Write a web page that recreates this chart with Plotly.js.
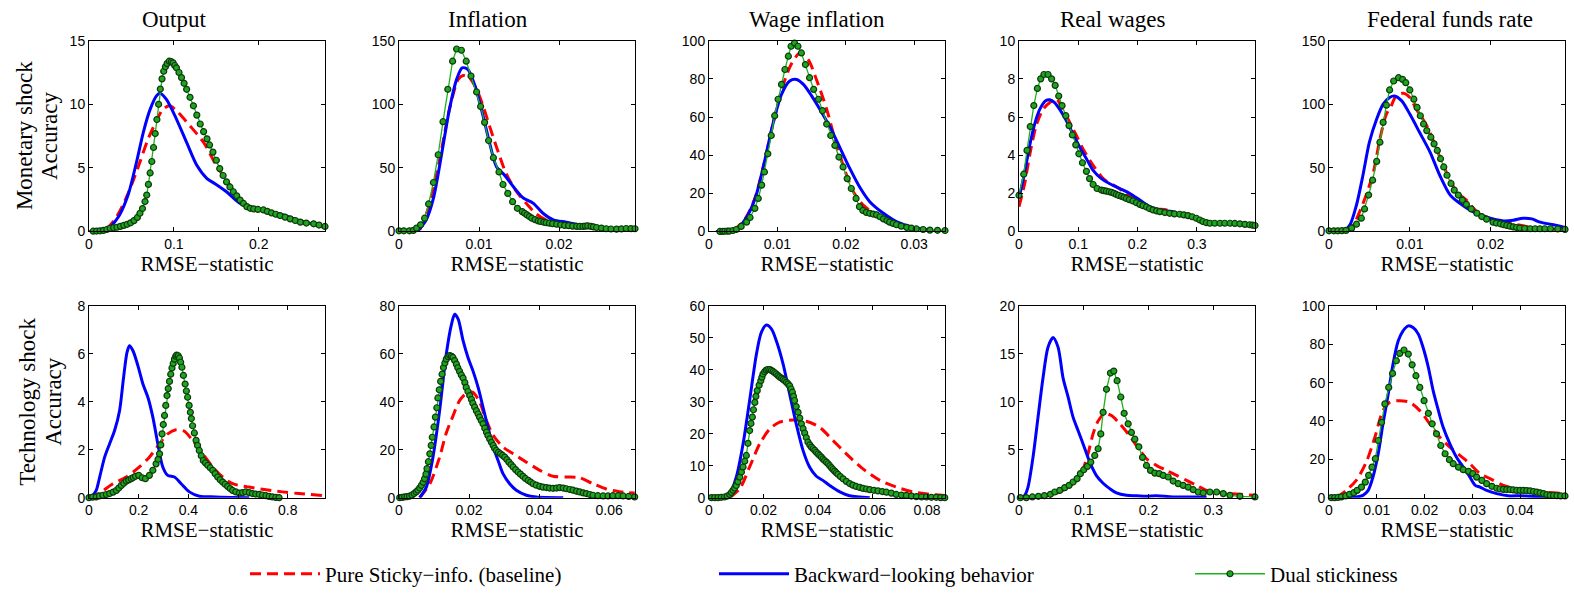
<!DOCTYPE html>
<html><head><meta charset="utf-8">
<script src="https://cdn.plot.ly/plotly-3.0.1.min.js"></script>
<style>html,body{margin:0;padding:0;background:#fff}#chart{width:1574px;height:595px}</style>
</head><body><div id="chart"></div>
<script>
// ---------- DATA: [x, y] pairs ----------
const colTitles = ['Output', 'Inflation', 'Wage inflation', 'Real wages', 'Federal funds rate'];
const rowTitleLines = [['Monetary shock', 'Accuracy'], ['Technology shock', 'Accuracy']];
const seriesNames = ['Pure Sticky\u2212info. (baseline)', 'Backward\u2212looking behavior', 'Dual stickiness'];
const xTitle = 'RMSE\u2212statistic';

// Monetary shock – Output
const outMonBase = [[0,0],[0.0205,0.26],[0.030,0.9],[0.040,2.08],[0.050,3.64],[0.060,5.46],[0.0697,7.28],[0.0795,8.7],[0.087,9.6],[0.095,9.88],[0.103,9.5],[0.119,8.3],[0.135,7.0],[0.150,5.2],[0.166,3.64],[0.178,2.47],[0.194,1.82],[0.229,1.17],[0.278,0.31]];
const outMonBack = [[0.0244,0.26],[0.036,1.3],[0.046,2.86],[0.056,5.46],[0.064,7.8],[0.072,9.6],[0.0795,10.66],[0.0835,10.87],[0.091,10.4],[0.103,8.84],[0.115,7.0],[0.127,5.2],[0.139,4.16],[0.148,3.77],[0.162,3.12],[0.178,2.2],[0.194,1.82],[0.209,1.6],[0.229,1.3],[0.249,0.83],[0.278,0.39]];
const outMonDual = [[0.005,0.02],[0.009,0.03],[0.013,0.05],[0.017,0.08],[0.021,0.15],[0.025,0.25],[0.029,0.29],[0.033,0.33],[0.037,0.4],[0.041,0.48],[0.045,0.56],[0.049,0.68],[0.053,0.85],[0.057,1.1],[0.060,1.43],[0.063,1.8],[0.066,2.35],[0.068,2.86],[0.070,3.7],[0.072,4.6],[0.074,5.5],[0.076,6.6],[0.078,7.7],[0.080,8.8],[0.082,10.0],[0.084,11.2],[0.086,12.0],[0.088,12.6],[0.090,12.95],[0.092,13.2],[0.0945,13.39],[0.097,13.35],[0.099,13.26],[0.101,13.05],[0.103,12.87],[0.106,12.5],[0.109,12.1],[0.112,11.65],[0.115,11.18],[0.119,10.55],[0.123,9.88],[0.127,9.15],[0.131,8.45],[0.135,7.85],[0.139,7.28],[0.142,6.8],[0.146,6.24],[0.150,5.6],[0.154,4.94],[0.158,4.4],[0.162,3.9],[0.166,3.5],[0.170,3.12],[0.174,2.8],[0.178,2.47],[0.182,2.2],[0.186,1.95],[0.190,1.82],[0.194,1.77],[0.199,1.73],[0.2055,1.69],[0.21,1.58],[0.215,1.46],[0.22,1.35],[0.225,1.25],[0.231,1.12],[0.237,0.99],[0.243,0.86],[0.249,0.73],[0.256,0.66],[0.2646,0.6],[0.271,0.5],[0.278,0.39]];

// Monetary shock – Inflation
const infMonBase = [[0.0026,1.3],[0.0038,20.8],[0.0051,57.2],[0.0063,96],[0.0074,119.6],[0.008,122.7],[0.0088,120.9],[0.0097,111.8],[0.0105,98.8],[0.0113,83.2],[0.0124,62.4],[0.0134,45.5],[0.0147,31.2],[0.0159,22.1],[0.0172,13.5],[0.0184,9.1],[0.0201,6.5],[0.0226,4.7],[0.0247,3.1],[0.0295,1.3]];
const infMonBack = [[0.0024,0.5],[0.0034,9.1],[0.0043,26],[0.0053,59.8],[0.0063,96],[0.0072,119.6],[0.0079,128.7],[0.0086,127.4],[0.0095,114.4],[0.0105,91],[0.0114,67.6],[0.0122,50.7],[0.0132,44.2],[0.0143,35.1],[0.0155,26.5],[0.0168,22.1],[0.018,14.3],[0.0193,9.1],[0.0209,7.3],[0.0226,5.2],[0.0247,3.9],[0.0263,2.6],[0.0295,1.3]];
const infMonDual = [[0,0.5],[0.0006,0.5],[0.0013,0.5],[0.0018,0.8],[0.0022,2.6],[0.0027,5.2],[0.0032,10.4],[0.0037,21.6],[0.0043,38.5],[0.0049,60.3],[0.0055,86.3],[0.0061,111.8],[0.0067,133.9],[0.0072,143.5],[0.0078,142.5],[0.0084,133.9],[0.009,122.2],[0.0097,109.7],[0.0102,98.3],[0.0107,85.8],[0.0112,71.5],[0.0118,58],[0.0125,46.8],[0.013,36.9],[0.0136,29.9],[0.0142,23.4],[0.0148,18.2],[0.0154,15.6],[0.0157,14.3],[0.016,13],[0.0163,11.7],[0.0166,10.4],[0.017,9.3],[0.0174,8.3],[0.0177,7.8],[0.0181,7.3],[0.0184,6.9],[0.0188,6.5],[0.0192,6.1],[0.0197,5.7],[0.0202,5.2],[0.0207,4.7],[0.0212,4.5],[0.0217,4.2],[0.0222,4.0],[0.0226,3.9],[0.023,3.9],[0.0233,4.2],[0.0236,4.4],[0.024,4.0],[0.0243,3.6],[0.0247,3.1],[0.0253,2.6],[0.0259,2.1],[0.0265,1.9],[0.0272,1.8],[0.0278,2.0],[0.0284,2.3],[0.029,2.2],[0.0295,2.1]];

// Monetary shock – Wage inflation
const wageMonBase = [[0.0035,0.3],[0.0052,6.1],[0.0067,17.3],[0.0081,36.4],[0.0094,57.2],[0.0108,76.3],[0.012,87.5],[0.0133,93.6],[0.0145,90.1],[0.0157,79.7],[0.0172,64.1],[0.0184,48.5],[0.0196,34.7],[0.0211,20.8],[0.0225,13.9],[0.0245,8.7],[0.0269,4.3],[0.0299,1.7],[0.0328,0.5]];
const wageMonBack = [[0.001,0],[0.004,0.9],[0.0057,8.7],[0.0069,19.1],[0.0081,36.4],[0.0094,57.2],[0.0106,71.9],[0.0118,78.9],[0.0128,79.7],[0.0138,77.1],[0.015,71.1],[0.0162,64.1],[0.0177,54.6],[0.0191,44.2],[0.0206,32.9],[0.022,23.4],[0.0235,15.6],[0.0255,9.5],[0.0274,5.2],[0.0299,2.1],[0.0323,0.9]];
const wageMonDual = [[0.0016,0],[0.002,0.05],[0.0023,0.1],[0.0027,0.15],[0.003,0.2],[0.0035,0.5],[0.004,1],[0.0047,2.6],[0.0055,4.9],[0.006,7.3],[0.0067,12.1],[0.0072,17.3],[0.0077,24.3],[0.0081,31.2],[0.0086,40.7],[0.0091,50.3],[0.0096,60.7],[0.0101,69.3],[0.0106,77.1],[0.0111,84.9],[0.0116,91.9],[0.012,97.1],[0.0125,98.8],[0.013,97.1],[0.0135,93.6],[0.0141,87.5],[0.0147,80.6],[0.0153,74.5],[0.016,69.3],[0.0166,63.3],[0.0172,56.3],[0.0178,50.3],[0.0184,45.1],[0.019,39],[0.0196,33.8],[0.0202,27.7],[0.0208,22.5],[0.0215,17.3],[0.022,13],[0.0225,11],[0.023,10],[0.0235,9.5],[0.024,9.1],[0.0245,8.7],[0.025,7.7],[0.0255,6.6],[0.026,5.7],[0.0264,4.9],[0.0269,4.2],[0.0274,3.5],[0.0281,2.8],[0.0289,2.1],[0.0296,1.7],[0.0303,1.4],[0.0313,1.0],[0.0323,0.7],[0.0334,0.6],[0.0345,0.5]];

// Monetary shock – Real wages
const realMonBase = [[0,1.3],[0.0096,2.51],[0.018,4.0],[0.029,5.55],[0.0405,6.4],[0.052,6.76],[0.063,6.93],[0.0743,6.4],[0.0855,5.72],[0.0968,5.03],[0.108,4.33],[0.125,3.47],[0.142,2.77],[0.159,2.43],[0.1756,2.11],[0.192,1.73],[0.209,1.42],[0.226,1.21],[0.249,1.13],[0.263,1.0]];
const realMonBack = [[0,1.73],[0.0096,3.1],[0.018,4.5],[0.0264,5.63],[0.035,6.4],[0.045,6.85],[0.052,6.9],[0.06,6.76],[0.0687,6.4],[0.08,5.8],[0.091,5.11],[0.1024,4.42],[0.1137,3.81],[0.125,3.2],[0.139,2.77],[0.153,2.5],[0.17,2.25],[0.187,1.99],[0.2037,1.65],[0.2206,1.3],[0.2375,1.13],[0.26,1.04]];
const realMonDual = [[0,1.9],[0.008,3.0],[0.0135,4.25],[0.019,5.5],[0.025,6.6],[0.031,7.5],[0.0366,8.0],[0.042,8.23],[0.049,8.23],[0.055,8.0],[0.061,7.66],[0.067,7.1],[0.0726,6.6],[0.079,6.07],[0.0844,5.55],[0.09,5.06],[0.0957,4.54],[0.101,4.07],[0.107,3.6],[0.1137,3.15],[0.119,2.77],[0.125,2.46],[0.1317,2.25],[0.139,2.17],[0.143,2.14],[0.1474,2.11],[0.152,2.08],[0.156,2.05],[0.16,2.0],[0.164,1.94],[0.168,1.89],[0.173,1.84],[0.177,1.79],[0.181,1.73],[0.186,1.67],[0.192,1.6],[0.198,1.51],[0.2037,1.42],[0.209,1.35],[0.215,1.28],[0.22,1.2],[0.226,1.13],[0.232,1.08],[0.2375,1.04],[0.246,0.99],[0.254,0.95],[0.262,0.92],[0.271,0.9],[0.278,0.87],[0.285,0.83],[0.292,0.77],[0.299,0.69],[0.305,0.6],[0.31,0.52],[0.316,0.46],[0.322,0.43],[0.33,0.43],[0.339,0.43],[0.347,0.43],[0.356,0.43],[0.364,0.42],[0.3725,0.4],[0.381,0.37],[0.389,0.35],[0.394,0.33],[0.398,0.31]];

// Monetary shock – Federal funds rate
const ffrMonBase = [[0.0019,0.5],[0.003,5.2],[0.0038,15.6],[0.0046,28.6],[0.0055,46.8],[0.0063,72.8],[0.0071,92.3],[0.0077,98.8],[0.0083,106.6],[0.0092,108.7],[0.01,105.3],[0.0108,96.2],[0.0121,83.2],[0.0133,65],[0.0145,46.8],[0.0158,31.2],[0.017,24.7],[0.0183,15.6],[0.0199,10.4],[0.0224,6.5],[0.0253,3.1],[0.0292,1.3]];
const ffrMonBack = [[0,0],[0.0019,0.8],[0.0026,5.2],[0.0034,20.8],[0.0042,44.2],[0.005,70.2],[0.0059,88.4],[0.0067,100.1],[0.0075,105.3],[0.0081,106.6],[0.009,102.7],[0.01,92.3],[0.0112,78],[0.0125,62.4],[0.0137,44.2],[0.015,28.6],[0.0162,22.1],[0.0174,16.9],[0.0187,13],[0.0199,10.4],[0.0216,8.3],[0.0228,8.8],[0.024,10.4],[0.0251,9.9],[0.0261,7.3],[0.0278,5.2],[0.0292,3.1]];
const ffrMonDual = [[0,0.5],[0.0006,0.5],[0.0011,0.5],[0.0016,0.6],[0.0021,0.8],[0.0028,2.6],[0.0034,5.7],[0.004,10.4],[0.0044,17.7],[0.0049,28.6],[0.0054,40.3],[0.0059,55.1],[0.0063,70.2],[0.0067,85.8],[0.0071,99.3],[0.0075,111.3],[0.008,118.3],[0.0086,120.9],[0.0091,119.6],[0.0095,117],[0.01,111.3],[0.0105,104],[0.0109,97.5],[0.0113,91],[0.0117,84.5],[0.0121,79.3],[0.0126,74.1],[0.013,68.9],[0.0134,63.7],[0.0138,57.2],[0.0142,50.7],[0.0146,44.2],[0.0151,37.7],[0.0155,32.5],[0.016,28.6],[0.0165,24.7],[0.017,21.3],[0.0176,17.7],[0.0183,14.3],[0.0189,11.7],[0.0195,9.6],[0.0203,7.3],[0.0207,6.6],[0.0212,6.0],[0.0216,5.3],[0.022,4.7],[0.0224,4.1],[0.0228,3.6],[0.0232,3.1],[0.0236,2.6],[0.0242,2.3],[0.0249,2.1],[0.0255,2.1],[0.0261,2.1],[0.0267,2.1],[0.0274,2.1],[0.0283,1.9],[0.0292,1.6]];

// Technology shock – Output
const outTecBase = [[0,0],[0.043,0.19],[0.096,0.58],[0.15,0.86],[0.203,1.28],[0.243,1.69],[0.284,2.25],[0.317,2.66],[0.35,2.83],[0.384,2.77],[0.417,2.39],[0.458,1.83],[0.498,1.28],[0.538,0.86],[0.578,0.58],[0.645,0.44],[0.712,0.33],[0.779,0.24],[0.845,0.17],[0.946,0.08]];
const outTecBack = [[0.009,0],[0.029,0.3],[0.043,0.86],[0.063,1.69],[0.083,2.25],[0.103,2.8],[0.123,3.63],[0.139,5.0],[0.153,6.06],[0.163,6.34],[0.177,6.13],[0.197,5.5],[0.217,4.74],[0.237,4.19],[0.257,3.36],[0.277,2.25],[0.297,1.28],[0.317,0.93],[0.344,0.86],[0.371,0.58],[0.404,0.24],[0.444,0.06],[0.511,0.03],[0.645,0]];
const outTecDual = [[0,0],[0.015,0.02],[0.029,0.03],[0.042,0.07],[0.056,0.1],[0.07,0.13],[0.083,0.17],[0.097,0.23],[0.11,0.3],[0.12,0.4],[0.13,0.51],[0.14,0.6],[0.15,0.69],[0.16,0.74],[0.17,0.79],[0.178,0.84],[0.187,0.89],[0.2,0.93],[0.214,0.83],[0.227,0.79],[0.243,0.93],[0.257,1.14],[0.27,1.41],[0.278,1.6],[0.284,1.83],[0.289,2.2],[0.294,2.66],[0.299,3.05],[0.304,3.43],[0.309,3.85],[0.314,4.26],[0.319,4.55],[0.324,4.85],[0.329,5.15],[0.334,5.41],[0.339,5.6],[0.344,5.78],[0.349,5.9],[0.353,5.95],[0.359,5.92],[0.364,5.83],[0.369,5.65],[0.374,5.44],[0.38,5.1],[0.387,4.74],[0.392,4.45],[0.397,4.19],[0.403,3.85],[0.408,3.56],[0.412,3.3],[0.417,3.0],[0.424,2.7],[0.431,2.39],[0.437,2.18],[0.444,1.97],[0.452,1.75],[0.46,1.55],[0.469,1.45],[0.478,1.35],[0.488,1.25],[0.498,1.14],[0.508,1.0],[0.518,0.86],[0.528,0.75],[0.538,0.65],[0.548,0.56],[0.558,0.47],[0.568,0.38],[0.578,0.3],[0.591,0.24],[0.605,0.19],[0.618,0.21],[0.631,0.24],[0.645,0.21],[0.658,0.17],[0.671,0.15],[0.685,0.14],[0.698,0.11],[0.712,0.08],[0.725,0.05],[0.738,0.03],[0.752,0.01],[0.765,0]];

// Technology shock – Inflation
const infTecBase = [[0.0059,0],[0.0088,5.8],[0.0116,16.9],[0.0135,27],[0.0154,34],[0.0173,40.5],[0.0192,43.5],[0.021,44],[0.023,40],[0.025,32],[0.0269,26],[0.0297,21.1],[0.0326,18.3],[0.0364,14.8],[0.0402,11.4],[0.044,8.9],[0.0478,8.6],[0.0516,8.3],[0.0554,5.8],[0.0592,3.6],[0.063,2.5],[0.0673,1.9]];
const infTecBack = [[0.0059,0],[0.0078,4.4],[0.0097,16.9],[0.0116,36.3],[0.0135,59.9],[0.015,72.4],[0.0159,76.5],[0.0169,74.5],[0.0183,65.5],[0.0197,58.5],[0.0211,53],[0.0226,46],[0.024,37.7],[0.0254,29.4],[0.0269,21.1],[0.0283,15.5],[0.0297,10],[0.0316,5.8],[0.0335,3.1],[0.0364,1],[0.0392,0.3],[0.0469,0]];
const infTecDual = [[0.0002,0],[0.0009,0.1],[0.0016,0.3],[0.0023,0.4],[0.003,0.6],[0.0037,1.1],[0.0043,1.7],[0.0049,2.4],[0.0054,3.1],[0.0059,4.0],[0.0064,5.1],[0.0069,6.4],[0.0073,7.9],[0.0077,9.8],[0.008,12.1],[0.0084,15.0],[0.0088,18.3],[0.0092,21.8],[0.0095,25.2],[0.01,29.5],[0.0104,33.6],[0.0108,37.5],[0.0111,41.6],[0.0115,45.0],[0.0119,48.5],[0.0123,51.5],[0.0127,54.3],[0.0131,56.2],[0.0135,57.8],[0.014,58.8],[0.0145,59.3],[0.015,59.0],[0.0154,58.5],[0.0159,57.2],[0.0164,55.7],[0.0168,54.2],[0.0173,52.7],[0.0178,51.2],[0.0183,49.9],[0.0188,48.0],[0.0192,46],[0.0197,44.3],[0.0202,42.6],[0.0207,41.0],[0.0211,39.4],[0.0216,37.8],[0.0221,36.3],[0.0226,34.9],[0.023,33.6],[0.0235,32.2],[0.024,30.8],[0.0245,29.0],[0.025,27.3],[0.0254,25.9],[0.0259,24.5],[0.0264,23.1],[0.0269,21.8],[0.0273,20.6],[0.0278,19.7],[0.0284,18.9],[0.029,18.3],[0.0296,17.6],[0.0302,16.9],[0.0308,15.9],[0.0314,14.8],[0.032,13.8],[0.0326,12.8],[0.0333,11.7],[0.034,10.7],[0.0347,9.8],[0.0354,8.9],[0.0361,8.0],[0.0369,7.2],[0.0376,6.5],[0.0383,5.8],[0.0392,5.2],[0.0402,4.7],[0.0411,4.4],[0.0421,4.2],[0.043,4.0],[0.044,3.9],[0.045,4.0],[0.0459,4.2],[0.0469,4.0],[0.0478,3.7],[0.0488,3.4],[0.0497,3.1],[0.0507,2.7],[0.0516,2.4],[0.0526,2.0],[0.0535,1.7],[0.0545,1.3],[0.0554,1.0],[0.0568,0.8],[0.0583,0.7],[0.0597,0.7],[0.0611,0.8],[0.0626,0.8],[0.064,0.7],[0.0656,0.5],[0.0673,0.3]];

// Technology shock – Wage inflation
const wageTecBase = [[0.0076,0],[0.0113,2.8],[0.0149,9.6],[0.0186,16.8],[0.0223,21.5],[0.0259,23.6],[0.0308,24.3],[0.0357,23.9],[0.0406,22],[0.0455,17.9],[0.0504,13.7],[0.0565,9],[0.0627,5.4],[0.0687,3.3],[0.0749,1.8],[0.081,1],[0.0865,0.7]];
const wageTecBack = [[0.0051,0],[0.0076,1.2],[0.01,6.4],[0.0125,16.8],[0.0149,30.4],[0.0174,44.9],[0.0192,51.7],[0.021,54],[0.0229,52.8],[0.0247,49.1],[0.0272,41.8],[0.0296,32.4],[0.032,23.1],[0.0345,14.8],[0.0369,9.6],[0.0394,6.7],[0.0418,5.4],[0.0443,3.8],[0.048,1.8],[0.0516,0.6],[0.059,0]];
const wageTecDual = [[0.0009,0],[0.0021,0],[0.0033,0],[0.0045,0.1],[0.0057,0.2],[0.0067,0.5],[0.0076,1.0],[0.0082,1.6],[0.0088,2.3],[0.0094,3.0],[0.01,3.8],[0.0106,5.0],[0.0113,6.4],[0.0119,8.0],[0.0125,9.6],[0.0131,11.4],[0.0137,13.2],[0.0143,17.0],[0.0149,21],[0.0154,23.2],[0.0159,25.2],[0.0163,27.5],[0.0168,29.8],[0.0172,31.7],[0.0177,33.5],[0.0184,35.2],[0.019,36.6],[0.0194,37.7],[0.0198,38.7],[0.0204,39.4],[0.021,39.9],[0.0216,40.1],[0.0223,40.1],[0.0229,39.8],[0.0235,39.5],[0.0241,39.1],[0.0247,38.7],[0.0253,38.2],[0.0259,37.8],[0.0266,37.4],[0.0272,37.0],[0.0278,36.6],[0.0284,36.1],[0.029,35.6],[0.0296,35.0],[0.0301,34.0],[0.0306,33],[0.031,31.7],[0.0314,30.4],[0.032,28.5],[0.0327,26.7],[0.0333,24.9],[0.0339,23.1],[0.0345,21.6],[0.0351,20.2],[0.0357,18.8],[0.0363,17.4],[0.037,16.5],[0.0376,15.8],[0.0382,15.3],[0.0388,14.8],[0.0394,14.2],[0.04,13.7],[0.0406,13.2],[0.0412,12.7],[0.0418,12.1],[0.0424,11.6],[0.0431,11.1],[0.0437,10.6],[0.0443,10.0],[0.0449,9.4],[0.0455,8.8],[0.0461,8.3],[0.0467,7.8],[0.0473,7.3],[0.0482,6.6],[0.0492,5.9],[0.0504,5.1],[0.0516,4.4],[0.0528,3.9],[0.054,3.5],[0.0553,3.2],[0.0565,2.9],[0.0578,2.7],[0.059,2.5],[0.0605,2.3],[0.062,2.1],[0.0636,1.9],[0.0651,1.7],[0.0669,1.4],[0.0687,1.0],[0.0706,0.8],[0.0724,0.7],[0.0743,0.5],[0.0761,0.3],[0.078,0.2],[0.0798,0.2],[0.0816,0.1],[0.0834,0.1],[0.085,0],[0.0865,0]];

// Technology shock – Real wages
const realTecBase = [[0.032,0],[0.0474,0.24],[0.0629,0.59],[0.0784,1.18],[0.0887,1.8],[0.099,3.0],[0.1067,4.6],[0.1144,6.65],[0.1222,8.0],[0.1325,8.8],[0.1428,8.56],[0.1557,7.7],[0.1686,6.65],[0.1814,5.44],[0.1969,4.06],[0.2124,3.36],[0.2278,2.84],[0.2433,2.32],[0.2588,1.8],[0.2742,1.28],[0.2897,0.76],[0.3052,0.59],[0.3258,0.42],[0.3644,0.24]];
const realTecBack = [[0.0036,0],[0.0088,0.24],[0.0139,1.1],[0.0216,4.2],[0.0294,8.4],[0.0371,12.5],[0.0448,15.7],[0.0526,16.7],[0.0603,15.7],[0.068,12.5],[0.0758,10.5],[0.0835,8.4],[0.0912,7.0],[0.099,5.6],[0.1093,3.7],[0.1196,2.3],[0.1299,1.5],[0.1402,0.94],[0.1505,0.49],[0.166,0.24],[0.1814,0.2],[0.1969,0.14],[0.2124,0.2],[0.2381,0.07],[0.2897,0.07]];
const realTecDual = [[0.002,0],[0.0113,0],[0.0206,0.07],[0.0299,0.14],[0.0392,0.21],[0.0485,0.35],[0.0552,0.59],[0.0629,0.76],[0.0706,1.04],[0.0773,1.28],[0.0835,1.63],[0.0897,1.98],[0.0948,2.5],[0.1,2.91],[0.1057,3.26],[0.1108,3.7],[0.117,4.4],[0.1222,5.1],[0.1263,6.65],[0.1299,8.9],[0.1351,11.3],[0.1412,13.0],[0.1464,13.2],[0.1515,12.2],[0.1572,10.5],[0.1624,8.8],[0.1686,7.7],[0.1737,6.8],[0.1789,6.1],[0.1851,5.3],[0.1907,4.2],[0.1969,3.36],[0.2031,2.84],[0.2098,2.56],[0.2165,2.5],[0.2227,2.32],[0.2304,2.15],[0.2381,1.73],[0.2459,1.46],[0.2536,1.28],[0.2613,1.1],[0.2691,0.83],[0.2768,0.59],[0.2845,0.49],[0.2948,0.59],[0.3052,0.59],[0.3155,0.42],[0.3258,0.24],[0.3412,0.14],[0.3644,0.07]];

// Technology shock – Federal funds rate
const ffrTecBase = [[0.0015,0],[0.0036,3.8],[0.0057,9.0],[0.0078,18.5],[0.0096,31.5],[0.0113,45.4],[0.0127,49.7],[0.0148,50.6],[0.0169,49.7],[0.019,45.4],[0.0211,38.5],[0.0232,31.5],[0.0253,26.3],[0.0274,22],[0.0295,17.7],[0.0316,12.5],[0.0337,9.9],[0.0365,6.4],[0.0393,4.7],[0.0421,4.2],[0.0449,2.9],[0.0494,2.1]];
const ffrTecBack = [[0.0036,0],[0.0057,0.35],[0.0071,1.2],[0.0082,3.8],[0.0092,10.7],[0.0103,22.9],[0.0113,38.5],[0.0124,54.1],[0.0134,69.7],[0.0145,81.8],[0.0155,87],[0.0166,89.6],[0.0176,88.7],[0.0187,85.3],[0.0197,78.3],[0.0208,67.9],[0.0218,55.8],[0.0229,45.4],[0.0239,36.7],[0.0253,28.1],[0.0267,21.1],[0.0281,15.9],[0.0295,10.7],[0.0306,6.4],[0.0316,5.5],[0.033,3.8],[0.0351,2.1],[0.0379,0.87],[0.04,1.0],[0.0421,0.7],[0.0449,0.35],[0.0494,0]];
const ffrTecDual = [[0.0005,0],[0.0012,0],[0.0019,0.1],[0.0026,0.35],[0.0035,0.87],[0.0043,1.7],[0.0052,2.6],[0.0059,3.8],[0.0068,5.5],[0.0076,8.1],[0.0083,11.6],[0.009,15.9],[0.0097,20.3],[0.0103,29.8],[0.011,39.3],[0.0117,48.9],[0.0125,57.5],[0.0133,64.8],[0.0141,71.4],[0.0148,75.2],[0.0157,77],[0.0166,74.9],[0.0174,69.3],[0.0182,63.6],[0.019,57.5],[0.0199,50.6],[0.0208,44],[0.0216,38.5],[0.0225,33.3],[0.0234,27.2],[0.0243,22.9],[0.0252,19.8],[0.026,17.7],[0.0271,15.9],[0.0281,14.6],[0.0292,13.7],[0.0301,12.5],[0.0309,10.7],[0.032,9.0],[0.033,7.3],[0.0341,5.9],[0.0351,4.9],[0.0358,4.5],[0.0365,4.3],[0.0372,4.2],[0.0379,4.2],[0.0386,4.0],[0.0393,3.8],[0.04,3.8],[0.0407,3.8],[0.0414,3.7],[0.0421,3.5],[0.0428,3.2],[0.0435,2.9],[0.0442,2.5],[0.0449,2.1],[0.0456,1.6],[0.0463,1.2],[0.047,1.1],[0.0477,1.0],[0.0485,0.9],[0.0494,0.87]];

// Axis ranges and tick steps per panel
const xMax  = [0.278, 0.0295, 0.0345, 0.398, 0.0292, 0.95, 0.0674, 0.0866, 0.3645, 0.0494];
const xStep = [0.1, 0.01, 0.01, 0.1, 0.01, 0.2, 0.02, 0.02, 0.1, 0.01];
const yMax  = [15, 150, 100, 10, 150, 8, 80, 60, 20, 100];
const yStep = [5, 50, 20, 2, 50, 2, 20, 10, 5, 20];
const panelData = [
  [outMonBase, outMonBack, outMonDual], [infMonBase, infMonBack, infMonDual],
  [wageMonBase, wageMonBack, wageMonDual], [realMonBase, realMonBack, realMonDual],
  [ffrMonBase, ffrMonBack, ffrMonDual],
  [outTecBase, outTecBack, outTecDual], [infTecBase, infTecBack, infTecDual],
  [wageTecBase, wageTecBack, wageTecDual], [realTecBase, realTecBack, realTecDual],
  [ffrTecBase, ffrTecBack, ffrTecDual]
];

// ---------- LAYOUT ----------
const W = 1574, H = 595;
const colLeft = [89, 399, 709, 1019, 1329], plotW = 236;
const titleCenter = [174, 488, 817, 1112, 1450];
const rowBox = [[41, 233], [308, 501]];
const rowLabelX = [[24, 49], [28, 54]];
const serif = 'Liberation Serif, Times New Roman, serif';
const sans = 'Liberation Sans, Arial, Helvetica, sans-serif';

const traces = [];
const layout = {
  width: W, height: H, margin: {l: 0, r: 0, t: 0, b: 0},
  paper_bgcolor: '#fff', plot_bgcolor: '#fff',
  showlegend: true, annotations: []
};

panelData.forEach((series, i) => {
  const row = Math.floor(i / 5), col = i % 5;
  const s = i === 0 ? '' : String(i + 1);
  const [top, bottom] = rowBox[row];
  layout['xaxis' + s] = {
    domain: [colLeft[col] / W, (colLeft[col] + plotW) / W], anchor: 'y' + s,
    range: [0, xMax[i]], tick0: 0, dtick: xStep[i],
    showline: true, linecolor: '#000', linewidth: 1, mirror: 'ticks',
    ticks: 'inside', ticklen: 4, tickcolor: '#000', showgrid: false, zeroline: false,
    tickfont: {family: sans, size: 14, color: '#000'},
    title: {text: xTitle, font: {family: serif, size: 21, color: '#000'}, standoff: 2}
  };
  layout['yaxis' + s] = {
    domain: [1 - bottom / H, 1 - top / H], anchor: 'x' + s,
    range: [0, yMax[i]], tick0: 0, dtick: yStep[i],
    showline: true, linecolor: '#000', linewidth: 1, mirror: 'ticks',
    ticks: 'inside', ticklen: 4, tickcolor: '#000', showgrid: false, zeroline: false,
    tickfont: {family: sans, size: 14, color: '#000'}
  };
  const [base, back, dual] = series;
  const common = {xaxis: 'x' + s, yaxis: 'y' + s, type: 'scatter', hoverinfo: 'skip'};
  traces.push(Object.assign({}, common, {
    x: base.map(p => p[0]), y: base.map(p => p[1]), mode: 'lines',
    name: seriesNames[0], legend: 'legend', showlegend: i === 0,
    line: {color: '#ff0000', width: 3, dash: '11px,6px', shape: 'spline', smoothing: 0.8}
  }));
  traces.push(Object.assign({}, common, {
    x: back.map(p => p[0]), y: back.map(p => p[1]), mode: 'lines',
    name: seriesNames[1], legend: 'legend2', showlegend: i === 0,
    line: {color: '#0000ff', width: 3, shape: 'spline', smoothing: 0.8}
  }));
  traces.push(Object.assign({}, common, {
    x: dual.map(p => p[0]), y: dual.map(p => p[1]), mode: 'lines+markers',
    name: seriesNames[2], legend: 'legend3', showlegend: i === 0, cliponaxis: false,
    line: {color: '#1db31d', width: 1.3},
    marker: {symbol: 'circle', size: 6, color: '#1fa51f', line: {color: '#0d3a0d', width: 1.2}}
  }));
  if (row === 0) {
    layout.annotations.push({
      xref: 'paper', yref: 'paper', x: titleCenter[col] / W, y: 1 - 20 / H,
      xanchor: 'center', yanchor: 'middle', showarrow: false, text: colTitles[col],
      font: {family: serif, size: 23, color: '#000'}
    });
  }
});

rowTitleLines.forEach((lines, r) => {
  const yc = (rowBox[r][0] + rowBox[r][1]) / 2;
  lines.forEach((txt, k) => {
    layout.annotations.push({
      xref: 'paper', yref: 'paper', x: rowLabelX[r][k] / W, y: 1 - yc / H,
      xanchor: 'center', yanchor: 'middle', showarrow: false, textangle: -90,
      text: txt, font: {family: serif, size: 23, color: '#000'}
    });
  });
});

const legStyle = (px) => ({
  x: px / W, y: 1 - 578 / H, xanchor: 'left', yanchor: 'middle', orientation: 'h',
  bgcolor: 'rgba(0,0,0,0)', borderwidth: 0, itemwidth: 70,
  font: {family: serif, size: 21, color: '#000'}
});
layout.legend = legStyle(245);
layout.legend2 = legStyle(714);
layout.legend3 = legStyle(1190);

Plotly.newPlot('chart', traces, layout, {staticPlot: true, displayModeBar: false});
</script>
</body></html>
